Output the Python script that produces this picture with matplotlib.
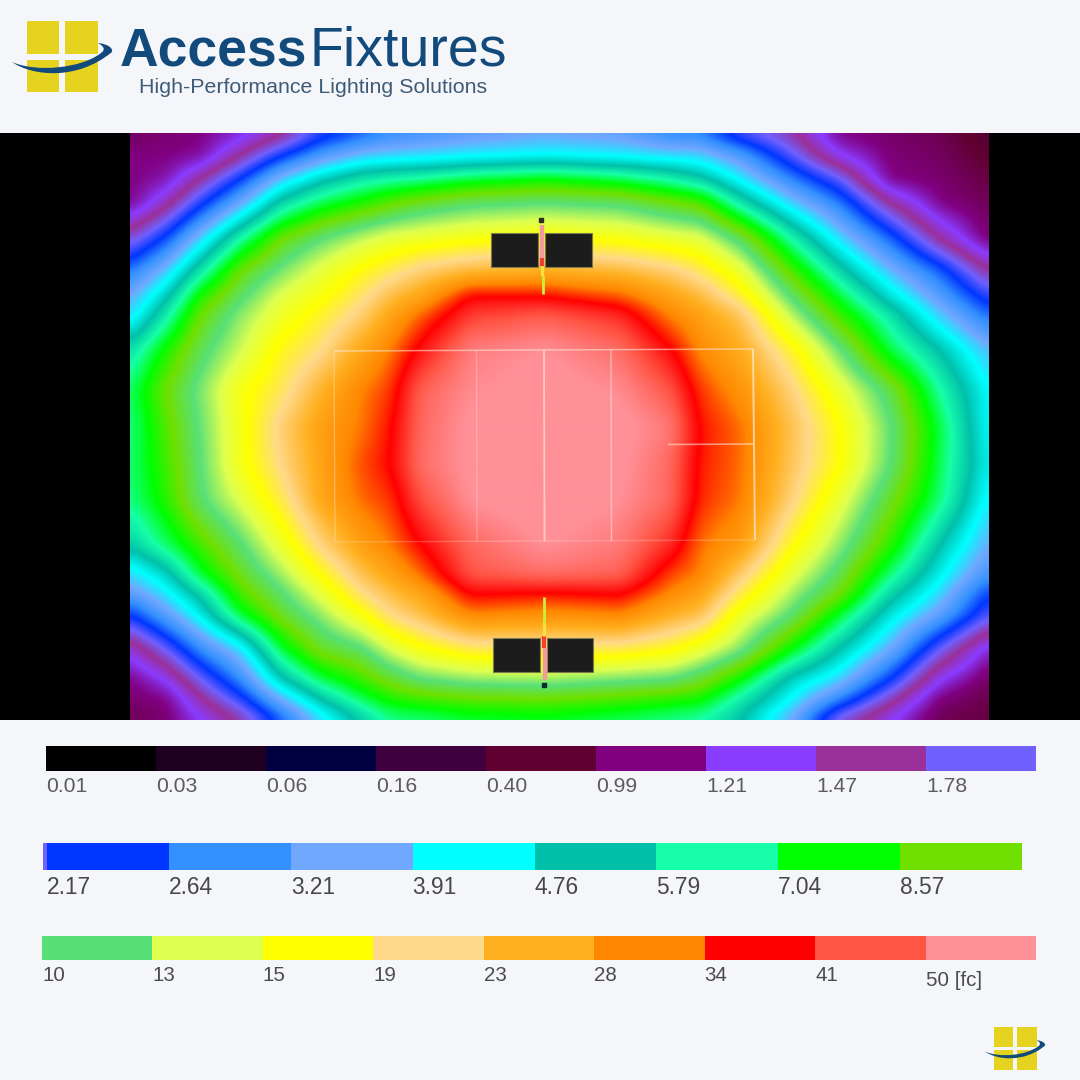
import matplotlib
matplotlib.use("Agg")
import numpy as np
import matplotlib.pyplot as plt
from matplotlib.colors import LinearSegmentedColormap
from matplotlib.patches import Rectangle, PathPatch
from matplotlib.path import Path

plt.rcParams['font.family'] = ['Liberation Sans', 'DejaVu Sans']

BG = '#f4f6f9'
W = 1080
H = 1080

# legend strips, one colour per step
labels_1 = ['0.01', '0.03', '0.06', '0.16', '0.40', '0.99', '1.21', '1.47', '1.78']
colors_1 = ['#000000', '#200020', '#000040', '#400040', '#600030', '#800080', '#8a3cff', '#9a3099', '#7060ff']
labels_2 = ['2.17', '2.64', '3.21', '3.91', '4.76', '5.79', '7.04', '8.57']
colors_2 = ['#0036ff', '#3390ff', '#70a8ff', '#00ffff', '#00c0aa', '#16ffa8', '#00ff00', '#70e000']
labels_3 = ['10', '13', '15', '19', '23', '28', '34', '41', '50 [fc]']
colors_3 = ['#58e078', '#ddff50', '#ffff00', '#ffd98a', '#ffb020', '#ff8800', '#ff0000', '#ff5545', '#ff9098']

# where the readings were taken, in picture pixels
read_x = [130, 165, 200, 240, 280, 320, 360, 390, 420, 470, 545, 620, 670, 700, 740, 790, 840, 890, 940, 988]
read_y = [133, 155, 178, 202, 238, 270, 295, 315, 350, 390, 427, 465, 500, 545, 575, 595, 615, 650, 680, 700, 720]

levels = [
    [4.6, 4.8, 5.0, 5.6, 6.7, 8.5, 9.4, 10.0, 10.2, 10.6, 10.9, 10.7, 9.9, 9.8, 8.3, 7.2, 5.0, 4.7, 4.4, 3.6],
    [5.0, 5.0, 5.2, 7.0, 8.9, 10.4, 11.3, 11.5, 11.6, 11.8, 12.0, 11.8, 11.6, 11.5, 10.5, 8.3, 6.0, 4.9, 4.6, 3.9],
    [5.0, 5.3, 7.0, 9.0, 11.3, 12.7, 13.6, 13.9, 14.1, 14.6, 15.0, 14.5, 13.8, 13.2, 11.8, 9.9, 8.1, 5.0, 4.8, 4.2],
    [5.0, 6.6, 8.7, 10.9, 13.3, 14.5, 15.2, 15.8, 16.3, 16.8, 17.0, 16.8, 16.1, 15.7, 13.6, 11.5, 9.7, 7.0, 5.0, 4.5],
    [7.6, 9.2, 11.5, 14.0, 16.0, 17.0, 17.8, 18.3, 18.5, 18.8, 19.0, 18.8, 18.4, 18.2, 16.7, 14.0, 11.6, 9.5, 6.9, 4.8],
    [9.7, 11.3, 13.6, 16.0, 17.2, 18.25, 19.1, 19.6, 20.2, 20.7, 21.0, 20.7, 20.2, 19.6, 18.4, 15.7, 13.3, 11.2, 9.4, 7.0],
    [10.9, 12.7, 15.2, 16.8, 18.1, 18.8, 19.7, 20.6, 21.2, 23.0, 22.9, 22.3, 21.3, 20.7, 19.4, 16.9, 14.6, 12.4, 10.5, 8.5],
    [11.6, 13.7, 16.0, 17.4, 18.5, 19.3, 20.2, 21.3, 22.3, 23.7, 24.1, 23.5, 22.0, 21.4, 20.5, 17.8, 15.5, 13.6, 11.4, 9.6],
    [13.5, 15.2, 16.7, 17.9, 19.2, 19.9, 21.2, 22.1, 23.2, 24.7, 25.0, 24.4, 23.1, 21.9, 21.1, 19.4, 17.1, 14.6, 13.0, 11.2],
    [14.4, 16.0, 17.3, 18.8, 19.6, 20.9, 22.0, 22.6, 24.2, 24.9, 25.2, 24.9, 24.0, 22.6, 21.7, 20.2, 18.4, 16.6, 14.0, 12.0],
    [14.2, 15.7, 17.1, 18.7, 20.2, 21.4, 22.1, 22.9, 24.3, 25.1, 25.3, 25.2, 24.6, 22.9, 22.2, 20.6, 19.0, 17.1, 14.6, 12.0],
    [14.3, 15.5, 17.0, 18.7, 20.0, 21.3, 22.4, 23.0, 24.4, 25.1, 25.3, 25.1, 24.3, 22.8, 22.2, 20.5, 19.0, 17.0, 14.5, 12.2],
    [14.2, 15.3, 16.9, 18.1, 19.5, 21.2, 22.2, 22.6, 23.9, 25.0, 25.3, 25.0, 24.3, 22.7, 22.1, 20.2, 18.3, 16.3, 14.3, 11.8],
    [13.2, 14.4, 15.6, 16.9, 18.4, 20.1, 21.4, 22.1, 23.0, 24.3, 25.0, 24.6, 23.5, 22.2, 21.5, 19.2, 17.4, 15.4, 13.0, 11.0],
    [11.5, 12.6, 14.7, 16.2, 17.5, 19.0, 20.5, 21.3, 22.2, 24.0, 24.4, 24.2, 22.5, 22.0, 20.3, 18.3, 16.6, 14.3, 12.2, 10.2],
    [10.5, 11.7, 13.2, 15.6, 16.8, 18.2, 19.8, 20.6, 21.2, 23.0, 22.8, 23.0, 21.9, 21.3, 19.5, 17.6, 16.0, 13.3, 11.5, 9.0],
    [9.0, 10.6, 12.3, 14.7, 16.3, 17.4, 18.8, 20.0, 20.6, 22.0, 21.8, 22.0, 21.0, 20.6, 18.5, 17.0, 14.7, 12.4, 10.7, 8.3],
    [6.3, 8.0, 10.0, 11.6, 14.6, 16.3, 16.8, 18.0, 18.8, 19.5, 19.6, 19.5, 19.1, 18.4, 17.3, 15.0, 12.9, 11.0, 8.0, 5.6],
    [5.0, 6.0, 8.0, 10.0, 12.8, 14.5, 15.5, 16.3, 17.0, 17.4, 17.5, 17.2, 17.0, 16.4, 15.0, 12.7, 11.5, 9.0, 6.0, 4.6],
    [4.8, 5.0, 6.8, 8.6, 11.0, 13.0, 14.4, 15.2, 15.5, 15.8, 15.9, 15.6, 15.3, 15.1, 13.7, 12.0, 9.8, 7.3, 4.9, 4.3],
    [4.4, 4.8, 5.9, 7.1, 9.3, 11.5, 13.1, 14.1, 14.2, 14.6, 14.7, 14.4, 14.1, 13.9, 13.0, 11.0, 7.5, 6.0, 4.4, 4.2],
]


def px_axes(x0, y0, x1, y1):
    # axes placed by pixel box, y counted from the top
    return fig.add_axes([x0 / W, 1 - y1 / H, (x1 - x0) / W, (y1 - y0) / H])


def smooth(a, n, axis):
    # box filter, edges held at their value
    pad = [(0, 0), (0, 0)]
    pad[axis] = (n // 2, n // 2)
    b = np.pad(a, pad, mode='edge')
    return np.apply_along_axis(lambda v: np.convolve(v, np.ones(n) / n, mode='valid'), axis, b)


def draw_strip(box, colors, labels, size, tcolor, pad):
    ax = px_axes(*box)
    ax.bar(range(len(colors)), 1, width=1, align='edge', color=colors, linewidth=0)
    ax.set_xlim(0, len(colors))
    ax.set_ylim(0, 1)
    ax.set_yticks([])
    ax.set_xticks(range(len(labels)))
    ax.set_xticklabels(labels, ha='left', fontsize=size, color=tcolor)
    ax.tick_params(axis='x', length=0, pad=pad)
    for s in ax.spines.values():
        s.set_visible(False)
    return ax


def draw_logo(ax, x0, y0, s):
    def P(x, y):
        return (x0 + x * s, y0 + y * s)
    for (a, b) in [(0, 32), (38, 71)]:
        for (c, d) in [(0, 33), (39, 71)]:
            ax.add_patch(Rectangle(P(a, c), (b - a) * s, (d - c) * s, color='#e6d31f', lw=0))
    verts = [P(-15, 41), P(5, 55), P(50, 60), P(85, 31),
             P(86, 27), P(81, 23), P(71, 22),
             P(78, 26), P(78, 29), P(74, 32),
             P(55, 47), P(10, 52), P(-15, 41)]
    codes = [Path.MOVETO, Path.CURVE4, Path.CURVE4, Path.CURVE4,
             Path.CURVE4, Path.CURVE4, Path.CURVE4,
             Path.CURVE4, Path.CURVE4, Path.CURVE4,
             Path.CURVE4, Path.CURVE4, Path.CURVE4]
    ax.add_patch(PathPatch(Path(verts, codes), facecolor='#124a7c', edgecolor='none', zorder=3))


fig = plt.figure(figsize=(W / 100, H / 100), dpi=100, facecolor=BG)

# black band behind the heat map
band = px_axes(0, 133, W, 720)
band.set_facecolor('#000000')
band.set_xticks([])
band.set_yticks([])
for s in band.spines.values():
    s.set_visible(False)

# smooth colour ramp through the legend steps
all_colors = colors_1 + colors_2 + colors_3
cmap = LinearSegmentedColormap.from_list('fc', all_colors, N=1024)

# the readings are unevenly spaced, so bring them onto the pixel grid for imshow
grid = np.array(levels)
fine_x = np.arange(130, 989)
fine_y = np.arange(133, 721)
field = np.array([np.interp(fine_x, read_x, row) for row in grid])
field = np.array([np.interp(fine_y, read_y, col) for col in field.T]).T
for n in (19, 11):
    field = smooth(smooth(field, n, 0), n, 1)

heat = px_axes(130, 133, 989, 720)
heat.imshow(field, cmap=cmap, vmin=0, vmax=25, interpolation='bilinear', aspect='auto')
heat.axis('off')

draw_strip((46, 746, 1036, 771), colors_1, labels_1, 15.2, '#5c5c5c', 4)
draw_strip((47, 843, 1022, 870), colors_2, labels_2, 16.4, '#484848', 4)
ax3 = draw_strip((42, 936, 1036, 960), colors_3, labels_3, 14.8, '#4c4c4c', 4)
ax3.xaxis.get_major_ticks()[-1].set_pad(8)

# overlay in picture pixels for the fixtures, outline and logos
over = fig.add_axes([0, 0, 1, 1])
over.set_xlim(0, W)
over.set_ylim(H, 0)
over.axis('off')
over.patch.set_alpha(0)

# sliver of the previous step at the start of strip 2
over.add_patch(Rectangle((43, 843), 4, 27, color='#7060ff', lw=0))

# fixture heads
for (x0, x1, y0, y1) in [(491, 538, 233, 267), (545, 592, 233, 267),
                         (493, 540, 638, 672), (547, 593, 638, 672)]:
    over.add_patch(Rectangle((x0, y0), x1 - x0, y1 - y0, facecolor='#1c1c1c', edgecolor='#7c7a50', lw=0.8))

# poles
over.plot([541.5, 541.5], [225, 258], color='#f59a9a', lw=3.2, solid_capstyle='butt')
over.plot([541.5, 541.5], [258, 266], color='#f04030', lw=3, solid_capstyle='butt')
over.plot([542, 542], [266, 276], color='#f8e040', lw=2.4, solid_capstyle='butt')
over.plot([542.5, 542.5], [276, 294], color='#c8f040', lw=2, solid_capstyle='butt')
over.plot([541], [220], marker='s', ms=2.8, color='#2a2a20')
over.plot([544.5, 544.5], [648, 680], color='#f59a9a', lw=3.2, solid_capstyle='butt')
over.plot([544, 544], [636, 648], color='#f04030', lw=3, solid_capstyle='butt')
over.plot([544, 544], [622, 636], color='#f8e040', lw=2.4, solid_capstyle='butt')
over.plot([544, 544], [597, 622], color='#c8f040', lw=2, solid_capstyle='butt')
over.plot([543.5], [685], marker='s', ms=2.8, color='#102a30')

# building outline
line_kw = dict(color='#ffe9dc', solid_capstyle='butt')
over.plot([334, 753], [351, 349], lw=1.1, alpha=0.55, **line_kw)
over.plot([753, 755], [349, 540], lw=1.4, alpha=0.7, **line_kw)
over.plot([334, 335], [351, 542], lw=1.0, alpha=0.35, **line_kw)
over.plot([335, 755], [542, 540], lw=1.0, alpha=0.25, **line_kw)
over.plot([476.5, 477], [350, 541], lw=1.0, alpha=0.3, **line_kw)
over.plot([544, 544.5], [350, 541], lw=1.3, alpha=0.65, **line_kw)
over.plot([611, 611.5], [350, 541], lw=1.1, alpha=0.5, **line_kw)
over.plot([668, 753], [444.5, 444], lw=1.2, alpha=0.55, **line_kw)

# logos
draw_logo(over, 27, 21, 1.0)
draw_logo(over, 994, 1027, 0.6)
over.text(120, 65, 'Access', fontsize=38.5, fontweight='bold', color='#124a7c', va='baseline', ha='left')
over.text(309, 65, 'Fixtures', fontsize=40, color='#124a7c', va='baseline', ha='left')
over.text(139, 93, 'High-Performance Lighting Solutions', fontsize=15.4, color='#3f5b78', va='baseline', ha='left')

fig.savefig('out.png', dpi=100, facecolor=BG)
